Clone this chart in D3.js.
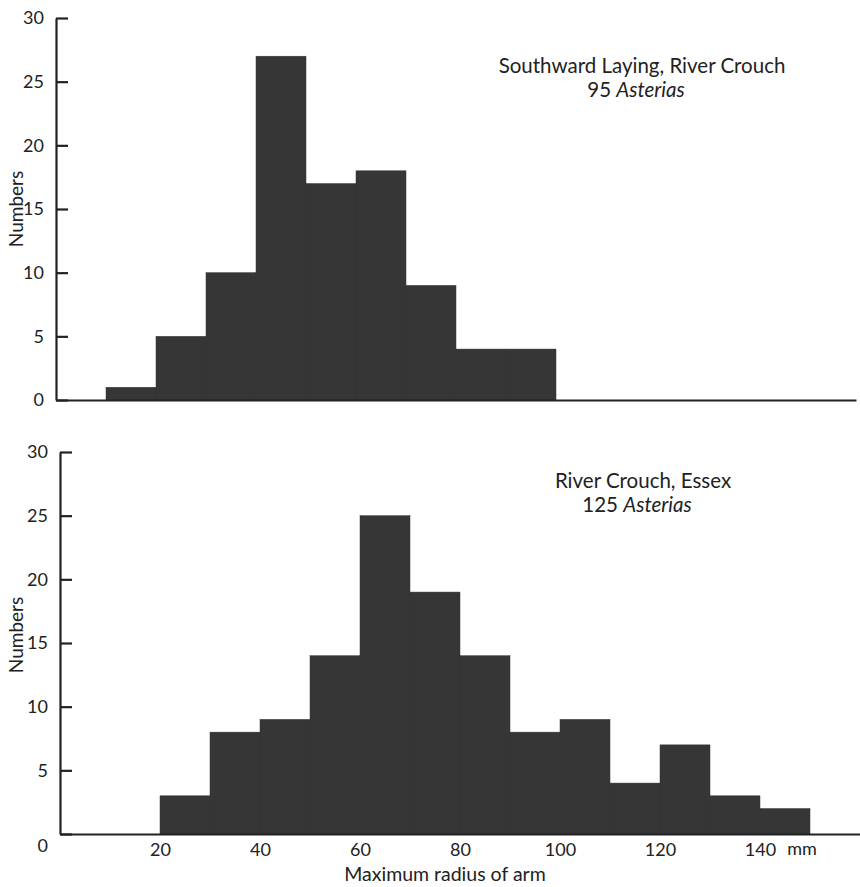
<!DOCTYPE html>
<html>
<head>
<meta charset="utf-8">
<script src="https://cdn.jsdelivr.net/npm/d3@7"></script>
<style>
  body { margin: 0; background: #fff; }
  svg text { font-family: Lato, "Open Sans", sans-serif; fill: #222; }
</style>
</head>
<body>
<div id="figure"></div>
<script>
// bin starts (mm) and counts, bins are 10 mm wide
var binWidth = 10;
var topBins = [10, 20, 30, 40, 50, 60, 70, 80, 90];
var topCounts = [1, 5, 10, 27, 17, 18, 9, 4, 4];
var bottomBins = [20, 30, 40, 50, 60, 70, 80, 90, 100, 110, 120, 130, 140];
var bottomCounts = [3, 8, 9, 14, 25, 19, 14, 8, 9, 4, 7, 3, 2];
var yTicks = [0, 5, 10, 15, 20, 25, 30];
var xTicks = [20, 40, 60, 80, 100, 120, 140];

var svg = d3.select("#figure")
    .append("svg")
    .attr("width", 860)
    .attr("height", 887);

/**
 * draw one histogram panel
 */
function drawPanel(opt) {
    var x = d3.scaleLinear()
        .domain([0, 160])
        .range([opt.left, opt.left + 800]);
    var y = d3.scaleLinear()
        .domain([0, 30])
        .range([opt.base, opt.top]);

    var g = svg.append("g");

    g.selectAll("rect")
        .data(opt.bins)
        .enter()
        .append("rect")
        .attr("x", d => x(d))
        .attr("width", d => x(d + binWidth) - x(d))
        .attr("y", (d, i) => y(opt.counts[i]))
        .attr("height", (d, i) => y(0) - y(opt.counts[i]))
        .attr("fill", "#363636")
        .attr("stroke", "#363636")
        .attr("stroke-width", 0.5);

    // x axis line (and labels on the lower panel)
    var xAxis = g.append("g")
        .attr("transform", `translate(0,${opt.base})`)
        .call(d3.axisBottom(x)
            .tickValues(opt.xTicks)
            .tickSize(0)
            .tickPadding(9)
            .tickFormat(d3.format("d")));
    xAxis.select(".domain").attr("stroke", "#222").attr("stroke-width", 2.2);
    xAxis.selectAll("text").attr("font-size", 18).attr("fill", "#222")
        .attr("font-family", "Lato, sans-serif");

    // y axis with inward ticks
    var yAxis = g.append("g")
        .attr("transform", `translate(${opt.left},0)`)
        .call(d3.axisLeft(y)
            .tickValues(yTicks)
            .tickSizeInner(-12)
            .tickSizeOuter(0)
            .tickPadding(12));
    yAxis.select(".domain").attr("stroke", "#222").attr("stroke-width", 2.2);
    yAxis.selectAll(".tick line").attr("stroke", "#222").attr("stroke-width", 2.2);
    yAxis.selectAll("text").attr("font-size", 18).attr("fill", "#222")
        .attr("font-family", "Lato, sans-serif");
    if (opt.zeroShift) {
        yAxis.selectAll(".tick text").filter(d => d === 0)
            .attr("y", opt.zeroShift);
    }

    g.append("text")
        .attr("transform", `translate(23,${opt.labelY}) rotate(-90)`)
        .attr("text-anchor", "middle")
        .attr("font-size", 19)
        .text("Numbers");

    g.append("text")
        .attr("x", opt.titleX)
        .attr("y", opt.titleY)
        .attr("text-anchor", "middle")
        .attr("font-size", 20.5)
        .text(opt.title);

    var sub = g.append("text")
        .attr("x", opt.titleX - 6)
        .attr("y", opt.titleY + 24)
        .attr("text-anchor", "middle")
        .attr("font-size", 20.5);
    sub.append("tspan").text(opt.n + " ");
    sub.append("tspan").attr("font-style", "italic").text("Asterias");

    return { x: x, y: y };
}

drawPanel({
    left: 56, base: 400, top: 18,
    bins: topBins, counts: topCounts, xTicks: [],
    labelY: 209,
    title: "Southward Laying, River Crouch", n: 95,
    titleX: 642, titleY: 73
});

var bottom = drawPanel({
    left: 60, base: 834, top: 452,
    bins: bottomBins, counts: bottomCounts, xTicks: xTicks,
    labelY: 635, zeroShift: 12,
    title: "River Crouch, Essex", n: 125,
    titleX: 643, titleY: 488
});

svg.append("text")
    .attr("x", bottom.x(140) + 42)
    .attr("y", 855)
    .attr("text-anchor", "middle")
    .attr("font-size", 18)
    .text("mm");

svg.append("text")
    .attr("x", 445)
    .attr("y", 881)
    .attr("text-anchor", "middle")
    .attr("font-size", 19.5)
    .text("Maximum radius of arm");
</script>
</body>
</html>
